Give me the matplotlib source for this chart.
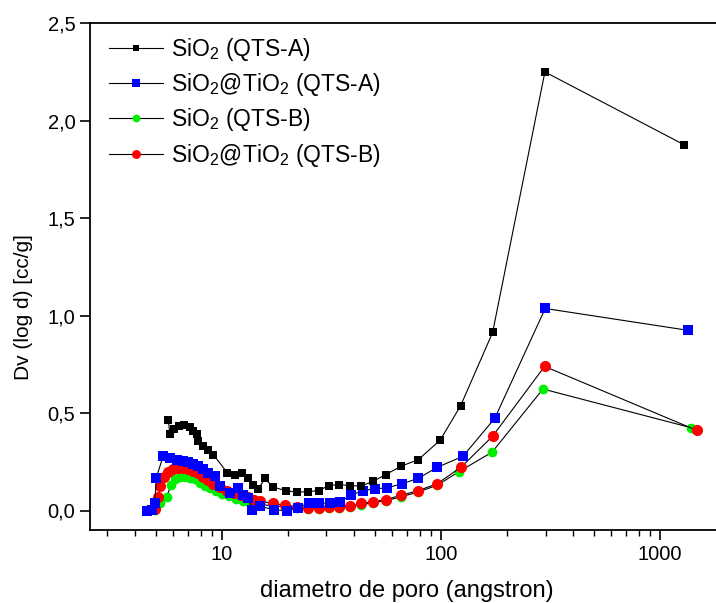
import numpy as np
import matplotlib
matplotlib.use("Agg")
import matplotlib.pyplot as plt
from matplotlib.ticker import LogLocator, FixedLocator, NullFormatter, FixedFormatter

plt.rcParams['font.family'] = ['Liberation Sans', 'DejaVu Sans']
plt.rcParams['mathtext.fontset'] = 'custom'
plt.rcParams['mathtext.rm'] = 'Liberation Sans'
plt.rcParams['mathtext.it'] = 'Liberation Sans'

# pore diameter (angstrom) and Dv(log d) (cc/g) per sample
sio2_a_x = [5.69, 5.79, 6.04, 6.36, 6.71, 7.14, 7.37, 7.69, 7.79, 8.21, 8.66, 9.13,
            10.6, 11.47, 12.38, 13.19, 13.9, 14.65, 15.72, 17.04, 19.54, 22.07, 24.77,
            27.64, 30.8, 34.3, 38.4, 43.1, 49.1, 55.9, 65.7, 78.8, 99, 123, 172, 298, 1290]
sio2_a_y = [0.466, 0.39, 0.42, 0.435, 0.44, 0.43, 0.41, 0.39, 0.355, 0.33, 0.31, 0.287,
            0.193, 0.184, 0.19, 0.167, 0.133, 0.108, 0.165, 0.121, 0.102, 0.094, 0.097,
            0.102, 0.128, 0.133, 0.128, 0.125, 0.15, 0.184, 0.227, 0.261, 0.36, 0.538,
            0.913, 2.249, 1.875]

tio2_a_x = [4.57, 4.79, 4.94, 5.02, 5.39, 5.79, 6.21, 6.64, 7.0, 7.37, 7.79, 8.21, 8.66,
            9.29, 9.79, 10.88, 11.87, 12.51, 13.19, 13.7, 14.9, 17.3, 19.8, 22.3, 25.0,
            27.8, 31.1, 34.7, 38.9, 44.0, 49.9, 56.6, 66.4, 78.8, 96.3, 126, 176, 299, 1340]
tio2_a_y = [0.0, 0.005, 0.036, 0.169, 0.278, 0.269, 0.261, 0.256, 0.251, 0.238, 0.228,
            0.215, 0.193, 0.176, 0.124, 0.091, 0.113, 0.082, 0.065, 0.005, 0.022, 0.003,
            0.0, 0.015, 0.039, 0.039, 0.036, 0.045, 0.079, 0.102, 0.111, 0.116, 0.137,
            0.165, 0.222, 0.278, 0.473, 1.036, 0.924]

sio2_b_x = [4.94, 5.2, 5.6, 5.86, 6.1, 6.43, 6.78, 7.14, 7.53, 7.93, 8.36, 8.81, 9.39,
            10.0, 10.8, 11.6, 12.5, 13.4, 14.6, 17.1, 19.5, 22.1, 24.8, 27.6, 30.8, 34.3,
            38.4, 43.1, 49.1, 55.9, 65.7, 78.8, 96.3, 121, 171, 292, 1380]
sio2_b_y = [0.005, 0.04, 0.07, 0.133, 0.164, 0.174, 0.174, 0.169, 0.159, 0.143, 0.128,
            0.113, 0.102, 0.087, 0.072, 0.061, 0.051, 0.041, 0.031, 0.025, 0.018, 0.012,
            0.01, 0.01, 0.012, 0.014, 0.02, 0.03, 0.04, 0.05, 0.07, 0.095, 0.13, 0.2,
            0.299, 0.623, 0.425]

tio2_b_x = [4.97, 5.1, 5.24, 5.44, 5.66, 5.98, 6.3, 6.64, 7.0, 7.37, 7.77, 8.19, 8.63,
            9.1, 9.8, 10.5, 11.3, 12.2, 13.1, 14.0, 14.9, 17.1, 19.5, 22.1, 24.8, 27.6,
            30.8, 34.3, 38.4, 43.1, 49.1, 55.9, 65.7, 78.8, 96.3, 124, 172, 297, 1469]
tio2_b_y = [0.01, 0.07, 0.128, 0.174, 0.2, 0.215, 0.22, 0.22, 0.215, 0.205, 0.19, 0.174,
            0.154, 0.138, 0.118, 0.102, 0.09, 0.077, 0.067, 0.056, 0.048, 0.036, 0.027,
            0.019, 0.014, 0.014, 0.017, 0.017, 0.022, 0.036, 0.045, 0.056, 0.078, 0.102,
            0.138, 0.224, 0.381, 0.739, 0.411]

y_ticks = [0.0, 0.5, 1.0, 1.5, 2.0, 2.5]
y_tick_labels = ["0,0", "0,5", "1,0", "1,5", "2,0", "2,5"]
x_ticks = [10, 100, 1000]
x_tick_labels = ["10", "100", "1000"]

fig = plt.figure(figsize=(7.16, 6.03), dpi=100)
ax = fig.add_axes([90 / 716, 1 - 530 / 603, 1 - 90 / 716 + 0.01, (530 - 23) / 603])

lk = dict(color="black", lw=0.8, markeredgewidth=0)
ax.plot(sio2_b_x, sio2_b_y, marker="o", ms=7, markerfacecolor="#00ee00",
        label=r"SiO$_2$ (QTS-B)", zorder=2, **lk)
ax.plot(tio2_b_x, tio2_b_y, marker="o", ms=8, markerfacecolor="#ff0000",
        label=r"SiO$_2$@TiO$_2$ (QTS-B)", zorder=3, **lk)
ax.plot(tio2_a_x, tio2_a_y, marker="s", ms=6.5, markerfacecolor="#0000ff",
        label=r"SiO$_2$@TiO$_2$ (QTS-A)", zorder=4, **lk)
ax.plot(sio2_a_x, sio2_a_y, marker="s", ms=6, markerfacecolor="black",
        label=r"SiO$_2$ (QTS-A)", zorder=5, **lk)

ax.set_xscale("log")
ax.set_xlim(2.5, 1940)
ax.set_ylim(-0.1, 2.5)

ax.xaxis.set_major_locator(FixedLocator(x_ticks))
ax.xaxis.set_major_formatter(FixedFormatter(x_tick_labels))
ax.xaxis.set_minor_locator(LogLocator(base=10, subs=np.arange(2, 10), numticks=20))
ax.xaxis.set_minor_formatter(NullFormatter())
ax.set_yticks(y_ticks)
ax.set_yticklabels(y_tick_labels)

ax.tick_params(axis="both", which="major", direction="out", length=7, width=1.2,
               labelsize=14.5, top=False, right=False)
ax.tick_params(axis="x", which="minor", direction="out", length=4, width=1.0, top=False)
for side in ["left", "bottom", "top"]:
    ax.spines[side].set_linewidth(1.3)
ax.spines["right"].set_visible(False)

ax.set_xlabel("diametro de poro (angstron)", fontsize=17, labelpad=12)
ax.set_ylabel("Dv (log d) [cc/g]", fontsize=15, labelpad=8)
ax.yaxis.set_label_coords(-0.09, 0.44)

handles, labels = ax.get_legend_handles_labels()
order = [3, 2, 0, 1]
ax.legend([handles[i] for i in order], [labels[i] for i in order],
          loc="upper left", bbox_to_anchor=(0.0, 1.013), frameon=False,
          fontsize=16.5, handlelength=2.35, handletextpad=0.35, markerscale=0.8,
          labelspacing=0.36, borderaxespad=0.45)

fig.savefig("out.png", dpi=100)
